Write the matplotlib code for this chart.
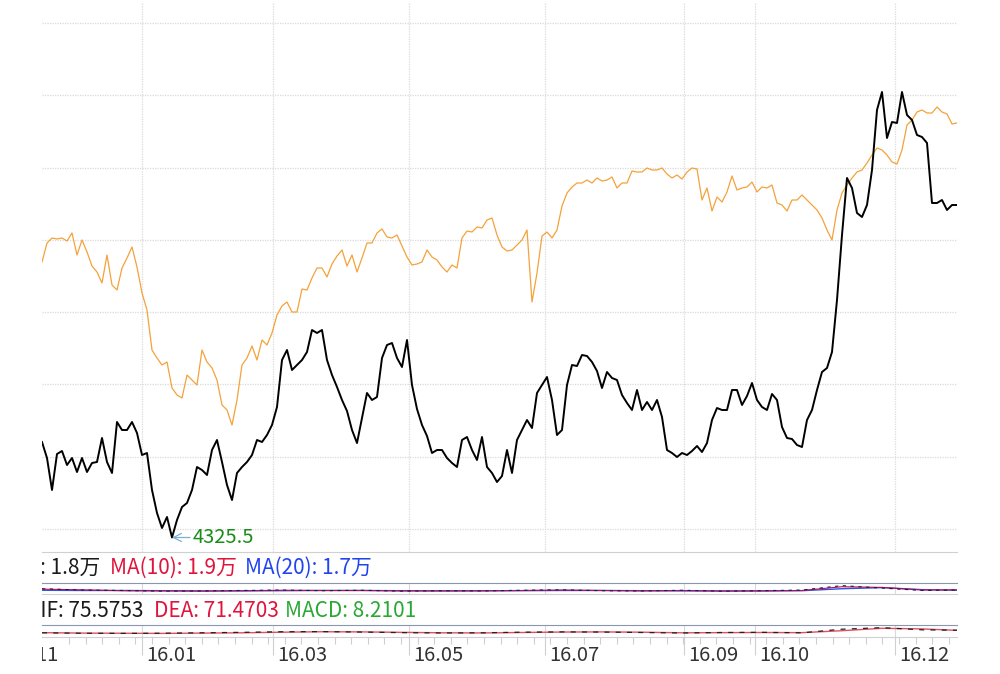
import numpy as np
import matplotlib
matplotlib.use('Agg')
import matplotlib.pyplot as plt

plt.rcParams['font.family'] = ['Noto Sans CJK SC', 'DejaVu Sans']

# daily closes (sampled), main index (black) and comparison line (orange)
index_close = [
    4421, 4405, 4373, 4409, 4412, 4398, 4405, 4391, 4405, 4391,
    4400, 4401, 4425, 4401, 4390, 4441, 4433, 4433, 4441, 4430,
    4408, 4410, 4373, 4350, 4335, 4346, 4325.5, 4343, 4356, 4360,
    4373, 4396, 4393, 4388, 4413, 4423, 4401, 4378, 4363, 4390,
    4396, 4401, 4408, 4423, 4421, 4428, 4438, 4456, 4503, 4513,
    4493, 4498, 4503, 4511, 4533, 4530, 4533, 4503, 4488, 4476,
    4463, 4452, 4433, 4420, 4445, 4470, 4463, 4466, 4505, 4518,
    4520, 4505, 4496, 4523, 4478, 4454, 4438, 4427, 4410, 4413,
    4413, 4405, 4400, 4396, 4423, 4426, 4413, 4403, 4426, 4396,
    4390, 4381, 4387, 4413, 4390, 4423, 4433, 4443, 4435, 4470,
    4478, 4486, 4463, 4428, 4433, 4478, 4498, 4497, 4508, 4507,
    4501, 4492, 4475, 4491, 4485, 4483, 4468, 4460, 4453, 4473,
    4453, 4461, 4453, 4463, 4446, 4413, 4410, 4406, 4410, 4408,
    4412, 4417, 4411, 4420, 4443, 4455, 4453, 4453, 4473, 4473,
    4458, 4467, 4480, 4463, 4456, 4453, 4469, 4463, 4436, 4425,
    4424, 4418, 4416, 4443, 4453, 4473, 4491, 4495, 4511, 4563,
    4628, 4685, 4675, 4650, 4646, 4658, 4693, 4753, 4771, 4725,
    4741, 4740, 4771, 4748, 4743, 4728, 4726, 4720, 4660, 4660,
    4663, 4653, 4658, 4658,
]
compare_close = [
    4601, 4620, 4625, 4624, 4625, 4622, 4630, 4608, 4623, 4611,
    4597, 4591, 4580, 4608, 4578, 4573, 4595, 4605, 4616, 4596,
    4570, 4553, 4513, 4505, 4498, 4501, 4475, 4468, 4465, 4488,
    4483, 4478, 4513, 4501, 4495, 4483, 4458, 4453, 4438, 4463,
    4498, 4505, 4517, 4503, 4523, 4518, 4530, 4548, 4557, 4561,
    4551, 4551, 4574, 4573, 4585, 4595, 4595, 4586, 4599, 4607,
    4613, 4597, 4608, 4591, 4605, 4620, 4620, 4630, 4634, 4626,
    4625, 4628, 4617, 4606, 4598, 4599, 4601, 4613, 4606, 4603,
    4596, 4591, 4598, 4595, 4625, 4632, 4631, 4636, 4635, 4643,
    4645, 4628, 4616, 4612, 4613, 4618, 4623, 4633, 4561, 4590,
    4627, 4631, 4625, 4633, 4657, 4670, 4676, 4680, 4680, 4683,
    4680, 4685, 4682, 4683, 4686, 4675, 4680, 4680, 4692, 4691,
    4691, 4695, 4693, 4693, 4695, 4689, 4685, 4688, 4684, 4691,
    4695, 4694, 4663, 4675, 4652, 4666, 4661, 4671, 4687, 4673,
    4675, 4676, 4681, 4671, 4676, 4675, 4678, 4660, 4658, 4652,
    4663, 4663, 4668, 4663, 4658, 4653, 4645, 4633, 4623, 4653,
    4670, 4678, 4685, 4691, 4693, 4700, 4708, 4715, 4713, 4708,
    4701, 4699, 4713, 4738, 4743, 4751, 4753, 4750, 4750, 4756,
    4751, 4749, 4739, 4740,
]

# sub-panel series, sampled every 8 bars
sub_idx = list(range(0, 184, 8)) + [183]
vol_ma5 = [2.4, 1.8, 1.6, 1.3, 1.4, 1.6, 1.8, 1.5, 1.7, 1.3, 1.5, 1.4,
           1.7, 1.9, 1.5, 1.4, 1.7, 1.3, 1.5, 1.8, 3.8, 2.7, 1.6, 1.8]
vol_ma10 = [2.2, 1.9, 1.5, 1.4, 1.3, 1.5, 1.7, 1.6, 1.6, 1.4, 1.4, 1.5,
            1.6, 1.8, 1.6, 1.4, 1.6, 1.3, 1.4, 1.6, 3.3, 3.0, 1.8, 1.9]
vol_ma20 = [1.7, 1.6, 1.6, 1.5, 1.4, 1.4, 1.5, 1.6, 1.6, 1.5, 1.4, 1.4,
            1.5, 1.6, 1.6, 1.5, 1.4, 1.4, 1.4, 1.5, 2.4, 2.9, 2.0, 1.7]
dif = [-10, -25, -30, -25, -10, 5, 25, 30, 15, -5, -15, -10,
       10, 20, 15, 0, -15, 0, 5, -10, 110, 160, 90, 75.57534]
dea = [-5, -20, -25, -30, -20, -10, 10, 25, 20, 5, -10, -15,
       0, 15, 20, 10, -10, -5, 0, -5, 60, 140, 120, 71.47029]

month_pos = [-7.6, 20, 46.2, 73.4, 100.6, 128.4, 142.6, 170.6]
month_labels = ['15.11', '16.01', '16.03', '16.05', '16.07', '16.09', '16.10', '16.12']

W, H = 1000, 674


def fy(px):
    return 1 - px / H


def px2i(px):
    return (px - 42) / 5.0


grid_col = '#dadada'
frame_col = '#8a96ab'

fig = plt.figure(figsize=(10, 6.74), dpi=100)

# main price panel
ax = fig.add_axes([0.042, fy(552), 0.915, (552 - 3) / H])
x = np.arange(len(index_close))
ax.plot(x, compare_close, color='#f4a23a', lw=0.9)
ax.plot(x, index_close, color='black', lw=1.4)
ax.set_xlim(0, len(x) - 1)
ax.set_ylim(4311, 4860)
ax.set_yticks(4334 + 72.3 * np.arange(8))
ax.grid(True, color=grid_col, ls=(0, (1, 1)), lw=0.9)
for s in ['top', 'left', 'right']:
    ax.spines[s].set_visible(False)
ax.spines['bottom'].set_color('#d0d0d0')

imin = int(np.argmin(index_close))
ax.annotate(f'{index_close[imin]}', xy=(imin, index_close[imin]), xytext=(15, 0),
            textcoords='offset points', color='#1a8c1a', fontsize=14.5,
            ha='left', va='center',
            arrowprops=dict(arrowstyle='->', color='#7ab0d8', lw=0.9, shrinkA=0, shrinkB=0))

# volume panel (squashed)
axv = fig.add_axes([0.042, fy(594), 0.915, 11 / H], sharex=ax)
axv.plot(sub_idx, vol_ma20, color='#3050e8', lw=1)
axv.plot(sub_idx, vol_ma10, color='#c0104a', lw=0.8)
axv.plot(sub_idx, vol_ma5, color='#1a1a50', lw=0.8, ls=(0, (3, 4)))
axv.set_ylim(0, 5)

# MACD panel (squashed)
axm = fig.add_axes([0.042, fy(637), 0.915, 12 / H], sharex=ax)
axm.plot(sub_idx, dea, color='#e05060', lw=1)
axm.plot(sub_idx, dif, color='#222222', lw=0.9, ls=(0, (4, 5)))
axm.set_ylim(-150, 250)

for a in (axv, axm):
    a.set_facecolor('none')
    a.set_yticks([])
    a.spines['left'].set_visible(False)
    a.spines['right'].set_visible(False)
    a.spines['top'].set_color(frame_col)
    a.spines['bottom'].set_color('#d0d0d0')

# shared x ticks: months (major) and weeks (minor)
axm.set_xticks(month_pos)
axm.set_xticks(np.arange(px2i(69), 184, 3.32), minor=True)
axm.set_xlim(0, len(x) - 1)
for a in (ax, axv):
    a.tick_params(which='both', length=0, labelbottom=False, labelleft=False)
axv.grid(True, axis='x', color=grid_col, ls='-', lw=0.8)
axm.grid(True, axis='x', which='major', color=grid_col, ls='-', lw=0.8)
axm.tick_params(which='major', length=13, color='#cfcfcf', width=0.8, labelbottom=False)
axm.tick_params(which='minor', length=5, color='#cfcfcf', width=0.8)

# text band below the main panel, y in pixels
axb = fig.add_axes([0.042, 0, 0.915, fy(553)], sharex=ax)
axb.set_ylim(H, 553)
axb.axis('off')
axb.patch.set_visible(False)

fs = 15
axb.text(px2i(100), 568, f'MA(5): {vol_ma5[-1]:.1f}万', ha='right', va='center',
         color='#1a1a1a', fontsize=fs, clip_on=True)
axb.text(px2i(110), 568, f'MA(10): {vol_ma10[-1]:.1f}万', ha='left', va='center',
         color='#e0143c', fontsize=fs, clip_on=True)
axb.text(px2i(245), 568, f'MA(20): {vol_ma20[-1]:.1f}万', ha='left', va='center',
         color='#2244ee', fontsize=fs, clip_on=True)

macd_val = 2 * (dif[-1] - dea[-1])
axb.text(px2i(144), 611, f'DIF: {dif[-1]:.4f}', ha='right', va='center',
         color='#1a1a1a', fontsize=fs, clip_on=True)
axb.text(px2i(154), 611, f'DEA: {dea[-1]:.4f}', ha='left', va='center',
         color='#e0143c', fontsize=fs, clip_on=True)
axb.text(px2i(285), 611, f'MACD: {macd_val:.4f}', ha='left', va='center',
         color='#2aa834', fontsize=fs, clip_on=True)

for pos, lab in zip(month_pos, month_labels):
    axb.text(pos + 0.8, 656, lab, ha='left', va='center', color='#333333',
             fontsize=14.5, clip_on=True)

fig.savefig('out.png', dpi=100)
